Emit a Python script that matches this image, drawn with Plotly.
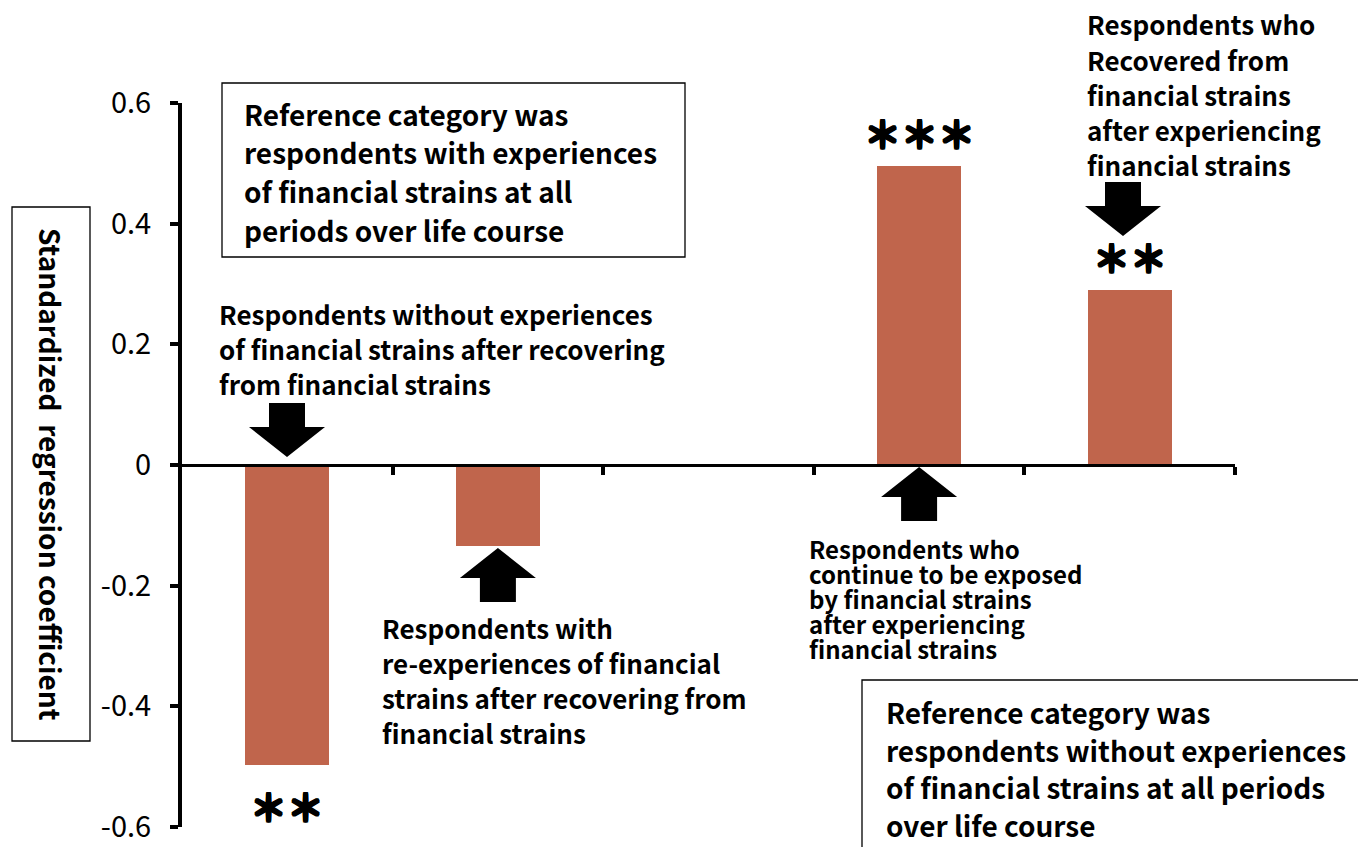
import plotly.graph_objects as go

categories = ["without after recovering", "re-experiences", "", "continue exposed", "recovered"]
values = [-0.497, -0.135, None, 0.495, 0.29]
stars = ["＊＊", "", "", "＊＊＊", "＊＊"]
ytick_vals = [-0.6, -0.4, -0.2, 0, 0.2, 0.4, 0.6]
ytick_text = ["-0.6", "-0.4", "-0.2", "0", "0.2", "0.4", "0.6"]

BAR = "#C0654C"
FONT = "Noto Sans CJK JP"
xs = list(range(len(categories)))

fig = go.Figure()
fig.add_trace(go.Bar(x=xs, y=values, width=0.4, marker=dict(color=BAR, line=dict(width=0)),
                     hoverinfo="skip", showlegend=False))

W, H = 1358, 847
L, R, T, B = 182, 123, 103, 20
PW, PH = W - L - R, H - T - B

def px2x(px):
    return (px - L) / PW * 5 - 0.5

def py2y(py):
    return (H - B - py) / PH * 1.2 - 0.6

def ppx(px):
    return (px - L) / PW

def ppy(py):
    return (H - B - py) / PH

def arrow(xc, ytip, up):
    hw = 38 / PW * 5
    sw = 18 / PW * 5
    hh = 30 / PH * 1.2
    tl = 54 / PH * 1.2
    s = -1 if up else 1
    yb = ytip + s * tl
    yh = ytip + s * hh
    pts = [(xc, ytip), (xc - hw, yh), (xc - sw, yh), (xc - sw, yb), (xc + sw, yb), (xc + sw, yh), (xc + hw, yh)]
    p = "M " + " L ".join(f"{a},{b}" for a, b in pts) + " Z"
    return dict(type="path", xref="x", yref="y", path=p, fillcolor="black", line=dict(width=0), layer="above")

shapes = [
    arrow(px2x(287), py2y(457), up=False),
    arrow(xs[1], py2y(548), up=True),
    arrow(xs[3], py2y(467), up=True),
    arrow(px2x(1123), py2y(236), up=False),
]

ann = []
def lines(px, py, rows, size=26, step=35):
    for k, s in enumerate(rows):
        ann.append(dict(x=ppx(px), y=ppy(py + k * step), xref="paper", yref="paper", text=s, showarrow=False,
                        xanchor="left", yanchor="middle", align="left",
                        font=dict(family=FONT, size=size, color="black", weight="bold")))

def box(x0, y0, x1, y1):
    shapes.append(dict(type="rect", xref="paper", yref="paper", x0=ppx(x0), x1=ppx(x1), y0=ppy(y0), y1=ppy(y1),
                       line=dict(color="black", width=1.3), fillcolor="white", layer="below"))

# top-left box
box(222, 83, 685, 257)
lines(242, 114, ["Reference category was", "respondents with experiences", "of financial strains at all", "periods over life course"], size=28, step=38.5)
# bottom-right box
box(862, 680, 1420, 900)
lines(884, 712, ["Reference category was", "respondents without experiences", "of financial strains at all periods", "over life course"], size=28, step=37.7)

lines(217, 313, ["Respondents without experiences", "of financial strains after recovering", "from financial strains"])
lines(380, 627, ["Respondents with", "re-experiences of financial", "strains after recovering from", "financial strains"], step=35)
lines(807, 548, ["Respondents who", "continue to be exposed", "by financial strains", "after experiencing", "financial strains"], size=24, step=25)
lines(1085, 24, ["Respondents who", "Recovered from", "financial strains", "after experiencing", "financial strains"], step=35.2)

THICK = "1px 0 0 black, -1px 0 0 black, 0 1px 0 black, 0 -1px 0 black, 1px 1px 0 black, -1px -1px 0 black, 1px -1px 0 black, -1px 1px 0 black"
for i, (v, s) in enumerate(zip(values, stars)):
    if not s or v is None:
        continue
    ann.append(dict(x=xs[i], y=v, xref="x", yref="y", text=s, showarrow=False,
                    xanchor="center", yanchor="bottom" if v > 0 else "top",
                    yshift=4 if v > 0 else -12,
                    font=dict(family=FONT, size=37, color="black", weight="bold", shadow=THICK)))

# y-axis title in a box
box(12, 207, 90, 741)
ann.append(dict(x=ppx(51), y=ppy(474), xref="paper", yref="paper", showarrow=False, textangle=90,
                xanchor="center", yanchor="middle",
                text="Standardized  regression coefficient",
                font=dict(family=FONT, size=28, color="black", weight="bold")))

fig.update_layout(
    width=W, height=H, margin=dict(l=L, r=R, t=T, b=B, autoexpand=False),
    plot_bgcolor="white", paper_bgcolor="white",
    shapes=shapes, annotations=ann, bargap=0,
    xaxis=dict(range=[-0.5, 4.5], anchor="free", position=0.5, showline=True, linecolor="black", linewidth=3,
               ticks="outside", ticklen=8, tickwidth=4, tickcolor="black",
               tickmode="array", tickvals=[0.5, 1.5, 2.5, 3.5, 4.5], showticklabels=False,
               showgrid=False, zeroline=False, fixedrange=True, automargin=False),
    yaxis=dict(range=[-0.6, 0.6], showline=True, linecolor="black", linewidth=4,
               ticks="outside", ticklen=8, tickwidth=4, tickcolor="black",
               tickmode="array", tickvals=ytick_vals, ticktext=ytick_text,
               tickfont=dict(family=FONT, size=29, color="black"), ticklabelstandoff=13,
               showgrid=False, zeroline=False, fixedrange=True, automargin=False),
)

fig.write_html("out.html", config={"displayModeBar": False},
               post_script="document.body.style.margin='0';document.body.style.overflow='hidden';")
